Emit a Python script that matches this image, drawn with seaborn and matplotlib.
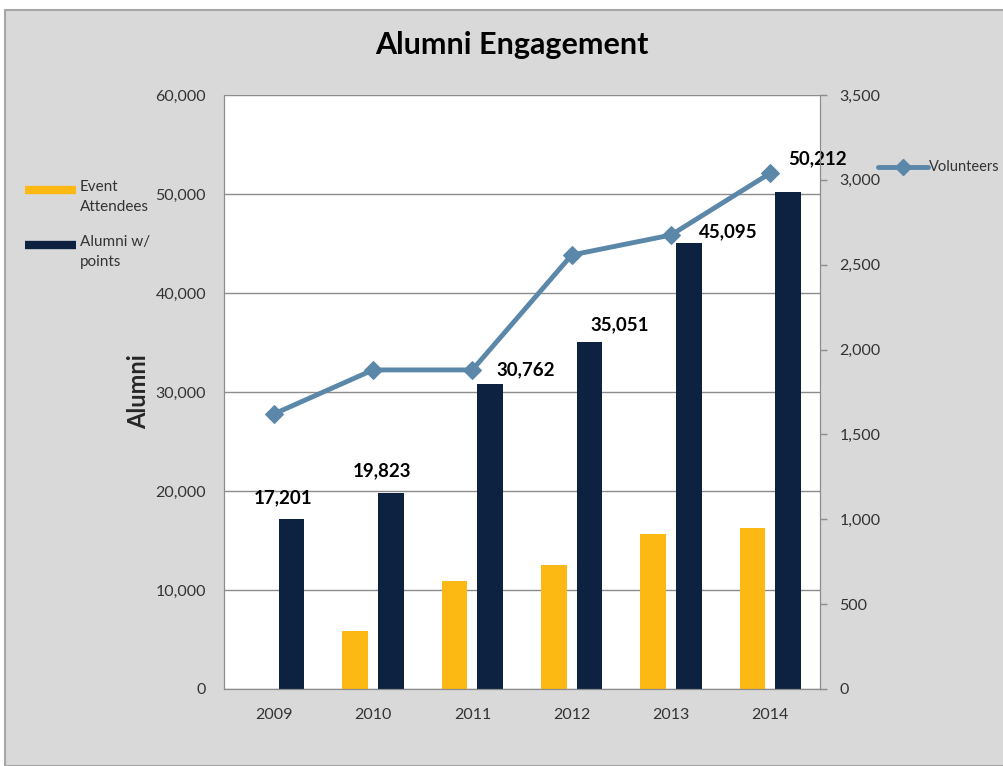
import numpy as np
import pandas as pd
import matplotlib
matplotlib.use('Agg')
import matplotlib.pyplot as plt
import seaborn as sns
from matplotlib.lines import Line2D
from matplotlib.patches import Rectangle
from matplotlib.ticker import FuncFormatter, MultipleLocator

years = ['2009', '2010', '2011', '2012', '2013', '2014']
event_attendees = [0, 5860, 10900, 12520, 15660, 16260]
alumni_points = [17201, 19823, 30762, 35051, 45095, 50212]
volunteers = [1620, 1880, 1880, 2557, 2675, 3040]

series_names = ['Event Attendees', 'Alumni w/ points']
legend_text = ['Event\nAttendees', 'Alumni w/\npoints']
colors = ['#fdb913', '#0d2240']
line_color = '#5b87a9'

df = pd.DataFrame({
    'year': years * 2,
    'value': event_attendees + alumni_points,
    'series': [series_names[0]] * 6 + [series_names[1]] * 6,
})

sns.set_style('white')
plt.rcParams['font.family'] = ['Lato', 'DejaVu Sans']

W, H = 1004, 766
fig = plt.figure(figsize=(W / 100, H / 100), dpi=100, facecolor='white')
# gray chart background with frame
fig.patches.append(Rectangle((5 / W, 0), 1, 756 / H, transform=fig.transFigure,
                             facecolor='#d9d9d9', edgecolor='#a6a6a6', linewidth=1.5, zorder=-10))

ax = fig.add_axes([224 / W, 77 / H, 596 / W, 594 / H])
ax.set_facecolor('white')

sns.barplot(data=df, x='year', y='value', hue='series', order=years,
            hue_order=series_names, palette=colors, saturation=1, width=0.72, gap=0.28,
            linewidth=0, ax=ax, legend=False)

ax.set_ylim(0, 60000)
ax.yaxis.set_major_locator(MultipleLocator(10000))
ax.yaxis.set_major_formatter(FuncFormatter(lambda v, p: f'{int(v):,}'))
ax.grid(axis='y', color='#8c8c8c', linewidth=1)
ax.set_axisbelow(True)
ax.set_xlabel('')
ax.set_ylabel('Alumni', fontsize=17, fontweight='bold', labelpad=4)
ax.tick_params(axis='y', labelsize=11.5, colors='#333333', length=0, pad=13)
ax.tick_params(axis='x', labelsize=11.5, colors='#333333', length=0, pad=14)
for s in ['left', 'bottom', 'right', 'top']:
    ax.spines[s].set_color('#8c8c8c')
ax.spines['top'].set_visible(False)

# data labels for alumni w/ points (offsets in pixels from the bar top)
offsets = [(-9, 21), (-9, 22), (35, 15), (30, 17), (39, 11), (29, 33)]
for i, (v, off) in enumerate(zip(alumni_points, offsets)):
    ax.annotate(f'{v:,}', xy=(i + 0.18, v), xytext=off, textcoords='offset pixels',
                ha='center', va='center', fontsize=13.5, fontweight='bold', color='black')

ax2 = ax.twinx()
sns.lineplot(x=np.arange(len(years)), y=volunteers, ax=ax2, color=line_color,
             linewidth=3.5, marker='D', markersize=9, markeredgecolor=line_color)
ax2.set_ylim(0, 3500)
ax2.yaxis.set_major_locator(MultipleLocator(500))
ax2.yaxis.set_major_formatter(FuncFormatter(lambda v, p: f'{int(v):,}'))
ax2.tick_params(axis='y', labelsize=11.5, labelcolor='#333333', color='#8c8c8c',
                length=5, width=1, pad=9)
for s in ['left', 'bottom', 'right', 'top']:
    ax2.spines[s].set_color('#8c8c8c')
ax2.spines['top'].set_visible(False)
ax.set_xlim(-0.5, 5.5)

fig.text(512 / W, 1 - 45 / H, 'Alumni Engagement', ha='center', va='center',
         fontsize=22, fontweight='bold', color='black')

# legend for the bars (left side)
for (y0, c, t) in zip([190, 245], colors, legend_text):
    fig.add_artist(Line2D([25 / W, 76 / W], [1 - y0 / H] * 2, color=c, linewidth=6,
                          solid_capstyle='butt', transform=fig.transFigure))
    fig.text(80 / W, 1 - (y0 - 10) / H, t, ha='left', va='top', fontsize=11,
             color='#333333', linespacing=1.55)

# legend for the line (right side)
fig.add_artist(Line2D([878 / W, 928 / W], [1 - 167 / H] * 2, color=line_color, linewidth=3.5,
                      transform=fig.transFigure))
fig.add_artist(Line2D([903 / W], [1 - 167 / H], color=line_color, marker='D', markersize=8,
                      linestyle='none', transform=fig.transFigure))
fig.text(929 / W, 1 - 167 / H, 'Volunteers', ha='left', va='center', fontsize=10.5,
         color='#333333')

fig.savefig('out.png', dpi=100, facecolor=fig.get_facecolor())
